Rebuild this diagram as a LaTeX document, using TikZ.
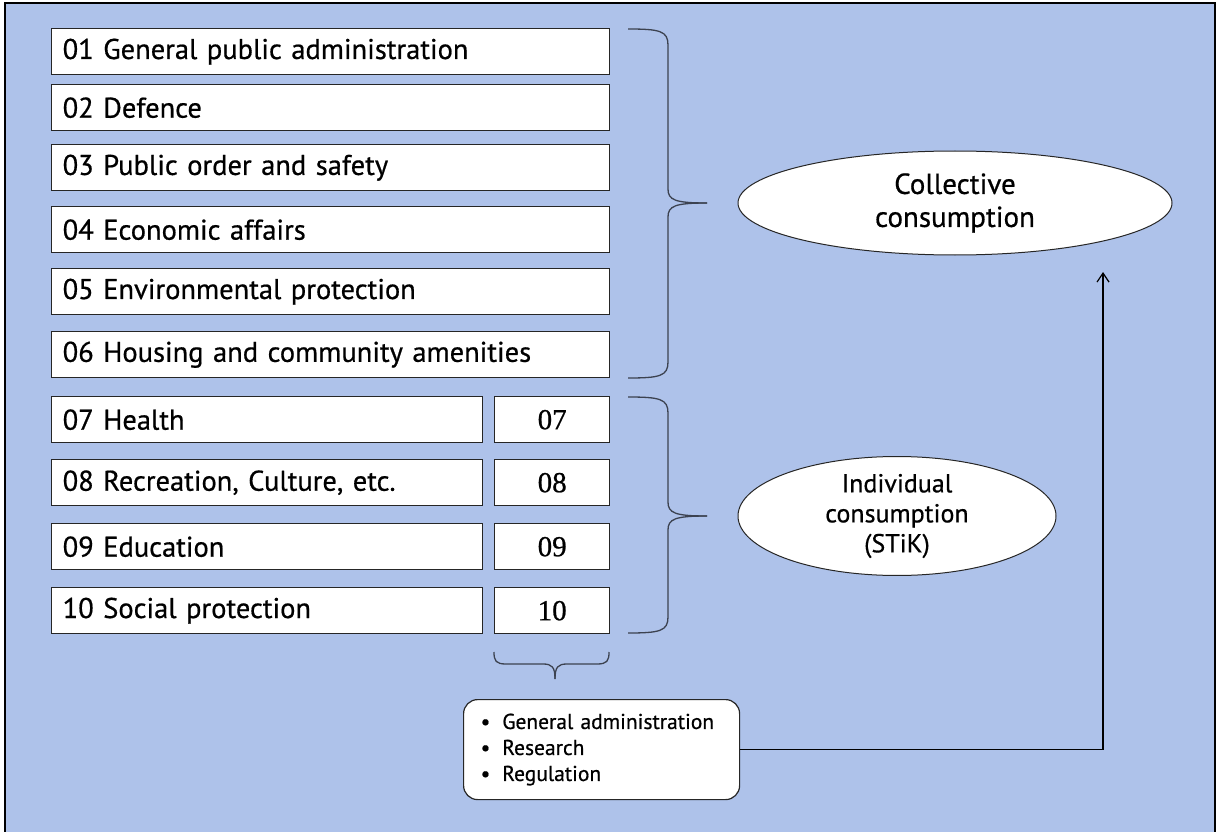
\documentclass[tikz,border=0pt]{standalone}
\usepackage{fontspec}
\setmainfont{PT Sans}[FakeBold=0.6]
\newfontfamily\numfont{Liberation Serif}[FakeBold=0.8]
\usetikzlibrary{shapes.geometric,arrows.meta}
\definecolor{panelblue}{RGB}{174,194,234}
\definecolor{bracegray}{RGB}{60,66,80}

\begin{document}
\begin{tikzpicture}[x=1pt,y=-1pt,
  catbox/.style={draw=black!85,line width=1.4pt,fill=white,anchor=north west,minimum height=46pt,inner xsep=11pt,align=left,font=\fontsize{28.5}{30}\selectfont},
  numbox/.style={draw=black!85,line width=1.4pt,fill=white,anchor=north west,minimum width=115pt,minimum height=46pt,font=\numfont\fontsize{29}{30}\selectfont},
  consumption/.style={draw=black!85,line width=1pt,fill=white,ellipse,inner sep=0pt,align=center},
  bracestroke/.style={draw=bracegray,line width=1.3pt}]
  \useasboundingbox (0,0) rectangle (1216,832);
  \fill[panelblue] (5,3) rectangle (1216,832);
  \draw[line width=1.6pt] (5,832) -- (5,3) -- (1215,3) -- (1215,832);

  \node[catbox,text width=536pt] (cat01) at (51,28) {01 General public administration};
  \node[catbox,text width=536pt] (cat02) at (51,84) {02 Defence};
  \node[catbox,text width=536pt] (cat03) at (51,144) {03 Public order and safety};
  \node[catbox,text width=536pt] (cat04) at (51,206) {04 Economic affairs};
  \node[catbox,text width=536pt] (cat05) at (51,268) {05 Environmental protection};
  \node[catbox,text width=536pt] (cat06) at (51,331) {06 Housing and community amenities};
  \node[catbox,text width=409pt] (cat07) at (51,396) {07 Health};
  \node[catbox,text width=409pt] (cat08) at (51,459) {08 Recreation, Culture, etc.};
  \node[catbox,text width=409pt] (cat09) at (51,523) {09 Education};
  \node[catbox,text width=409pt] (cat10) at (51,587) {10 Social protection};
  \node[numbox] (num07) at (494,396) {07};
  \node[numbox] (num08) at (494,459) {08};
  \node[numbox] (num09) at (494,523) {09};
  \node[numbox] (num10) at (494,587) {10};

  \draw[bracestroke] (628,29) .. controls (660,29) and (668,31) .. (668,45) -- (668,189) .. controls (668,200) and (675,203) .. (707,203);
  \draw[bracestroke] (628,378) .. controls (660,378) and (668,376) .. (668,362) -- (668,217) .. controls (668,206) and (675,203) .. (707,203);
  \draw[bracestroke] (628,397) .. controls (660,397) and (668,399) .. (668,413) -- (668,502) .. controls (668,513) and (675,516) .. (707,516);
  \draw[bracestroke] (628,633) .. controls (660,633) and (668,631) .. (668,617) -- (668,530) .. controls (668,519) and (675,516) .. (707,516);
  \draw[bracestroke] (494,652) .. controls (494,661) and (496,664) .. (506,664) -- (543,664) .. controls (552,664) and (555,667) .. (555,679);
  \draw[bracestroke] (609,652) .. controls (609,661) and (607,664) .. (597,664) -- (567,664) .. controls (558,664) and (555,667) .. (555,679);

  \node[consumption,minimum width=434pt,minimum height=104pt,font=\fontsize{29}{33}\selectfont] (coll) at (955,203) {Collective\\consumption};
  \node[consumption,minimum width=318pt,minimum height=103pt,font=\fontsize{26}{30}\selectfont] (indiv) at (897,516) {Individual\\consumption\\(STiK)};

  \node[draw=black!85,line width=1.2pt,fill=white,rounded corners=14pt,anchor=north west,minimum width=276pt,minimum height=100pt,inner xsep=17pt,text width=242pt,align=left,font=\fontsize{21.5}{26}\selectfont] (gbox) at (463,699) {\textbullet\hspace{12pt}General administration\\\textbullet\hspace{12pt}Research\\\textbullet\hspace{12pt}Regulation};

  \coordinate (arrowend) at (1103,272);
  \draw[line width=1.2pt,-{Straight Barb[length=9pt,width=12pt]}] (gbox.east) -| (arrowend);
\end{tikzpicture}
\end{document}
